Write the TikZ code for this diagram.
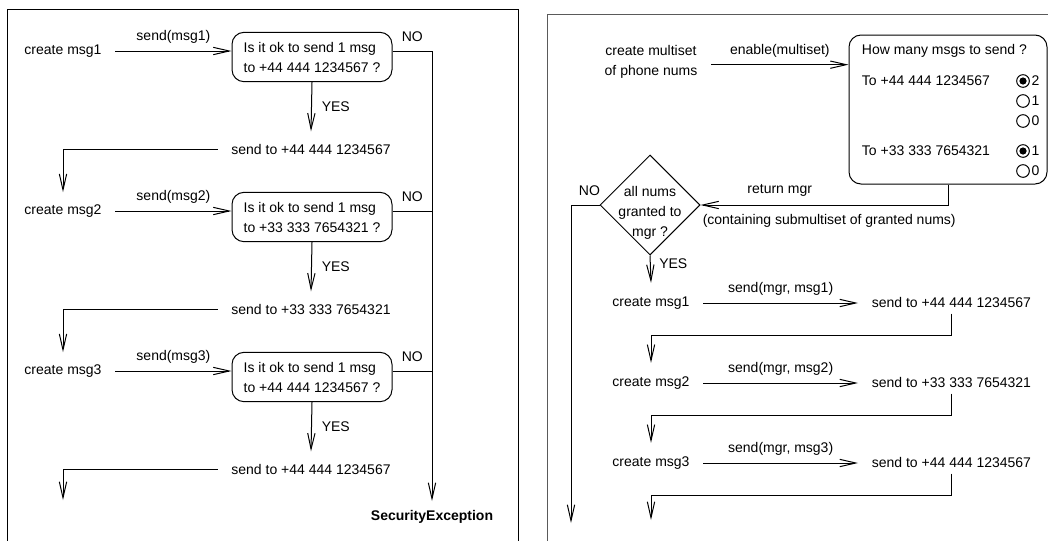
\documentclass[tikz,border=0pt]{standalone}
\usepackage{fontspec}
\setmainfont{Liberation Sans}
\usetikzlibrary{arrows.meta,positioning,shapes.geometric}
\definecolor{FrameGray}{RGB}{90,90,90}

\begin{document}
\begin{tikzpicture}[x=.75pt,y=-.75pt,font=\fontsize{10.5}{15}\selectfont,line width=.75pt,
  arr/.style={-{Straight Barb[length=12pt,width=5.5pt]}},
  txt/.style={inner xsep=10pt,inner ysep=9pt},
  ask/.style={draw,rounded corners=9pt,minimum width=120pt,minimum height=37pt,align=left},
  radio/.style={draw,circle,inner sep=0pt,minimum size=9.5pt}]
\useasboundingbox (0,0) rectangle (1048,540);
\clip (0,0) rectangle (1048,540);
\draw (7,9) rectangle (518,560);
\draw[FrameGray] (547,14) rectangle (1060,560);
% left: one check per message
\node[font=\fontsize{10.5}{15}\selectfont\bfseries,anchor=north,inner ysep=7pt] (exc) at (432,501) {SecurityException};
\foreach \i/\num in {1/+44 444 1234567,2/+33 333 7654321,3/+44 444 1234567}{
  \node[txt] (c\i) at (63,{51+160*(\i-1)}) {create msg\i};
  \node[ask] (q\i) at (312,{57+160*(\i-1)}) {Is it ok to send 1 msg\\to \num\ ?};
  \node[txt] (s\i) at (311,{149+160*(\i-1)}) {send to \num};
  \draw[arr] (c\i.east) -- (c\i.east -| q\i.west) node[midway,above=2pt]{send(msg\i)};
  \draw[arr] (q\i.south) -- (s\i.north) node[midway,right=4pt]{YES};
  \draw (c\i -| q\i.east) -- (c\i -| exc.north) node[midway,above=3pt]{NO};
}
\draw[arr] (c1 -| exc.north) -- (exc.north);
\draw[arr] (s1.west) -| (c2.north);
\draw[arr] (s2.west) -| (c3.north);
\coordinate (leftend) at (63,500);
\draw[arr] (s3.west) -| (leftend);
% right: one manager for the whole multiset
\node[txt,align=center] (cm) at (651,62) {create multiset\\of phone nums};
\node[draw,rounded corners=9pt,minimum width=148.5pt,minimum height=111.75pt] (mb) at (948,109.5) {};
\draw[arr] ([yshift=-2pt]cm.east) -- ([yshift=-2pt]cm.east -| mb.west) node[midway,above=2pt]{enable(multiset)};
\node[anchor=west] (hm) at (857,51) {How many msgs to send ?};
\node[anchor=west] (t44) at (857,81) {To +44 444 1234567};
\node[anchor=west] (t33) at (857,151) {To +33 333 7654321};
\foreach \y/\v in {81/2,101/1,121/0,151/1,171/0}{
  \node[radio] (r\y) at (1023,\y) {};
  \node[anchor=west,inner sep=1pt] (v\y) at (r\y.east) {\v};
}
\fill (r81) circle[radius=2.7pt];
\fill (r151) circle[radius=2.7pt];
\node[draw,diamond,minimum width=75pt,minimum height=75pt,inner sep=0pt] (dm) at (650,205) {};
\node[align=center] (dmq) at (650,213) {all nums\\granted to\\mgr ?};
\draw[arr] (mb.south) |- (dm.east) node[pos=.84,above=3pt]{return mgr}
  node[pos=.74,below=3pt]{(containing submultiset of granted nums)};
\coordinate (noend) at (571,523);
\draw[arr] (dm.west) -| (noend) node[pos=0,above left,xshift=4pt,yshift=3pt]{NO};
\foreach \i/\num in {1/+44 444 1234567,2/+33 333 7654321,3/+44 444 1234567}{
  \node[txt,inner ysep=10pt] (cr\i) at (651,{303+80*(\i-1)}) {create msg\i};
  \node[txt,inner ysep=4.5pt,anchor=west] (sr\i) at (858,{302+80*(\i-1)}) {send to \num};
  \draw[arr] (cr\i.east) -- (cr\i.east -| sr\i.west) node[midway,above=2pt]{send(mgr, msg\i)};
}
\draw[arr] (dm.south) -- (cr1.north) node[pos=.3,right=3pt]{YES};
\draw[arr] (sr1.south) -- ++(0,22) -| (cr2.north);
\draw[arr] (sr2.south) -- ++(0,22) -| (cr3.north);
\coordinate (rightend) at (651,520);
\draw[arr] (sr3.south) -- ++(0,22) -| (rightend);
\end{tikzpicture}
\end{document}
